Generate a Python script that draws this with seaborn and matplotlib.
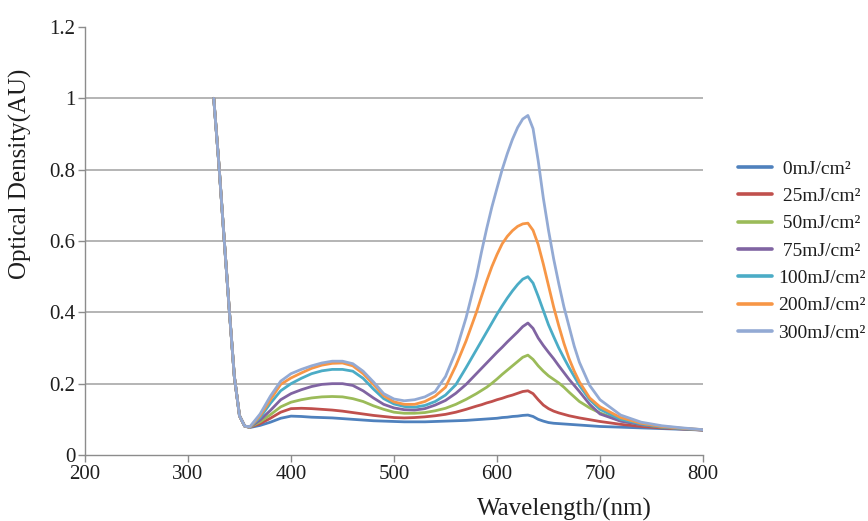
import numpy as np
import pandas as pd
import matplotlib
matplotlib.use("Agg")
import matplotlib.pyplot as plt
from matplotlib.ticker import FuncFormatter
import seaborn as sns

# ---------------- data ----------------
wavelength = [325, 330, 335, 340, 345, 350, 355,
              360, 370, 380, 390, 400, 410, 420, 430, 440, 450, 460, 470, 480, 490,
              500, 510, 520, 530, 540, 550, 560, 570,
              580, 585, 590, 595, 600, 605, 610, 615, 620, 625, 630, 635, 640, 645,
              650, 655, 660, 665, 670, 675, 680,
              690, 700, 720, 740, 760, 780, 800]

uv_edge = [1.0, 0.815, 0.61, 0.41, 0.22, 0.11, 0.081]

od_0 = uv_edge + [
    0.077, 0.083, 0.092, 0.103, 0.109, 0.108, 0.106, 0.105, 0.104, 0.102, 0.100,
    0.098, 0.096, 0.095, 0.094, 0.093, 0.093, 0.093, 0.094, 0.095, 0.096, 0.097,
    0.099, 0.100, 0.101, 0.102, 0.103, 0.105, 0.106, 0.108, 0.109, 0.111, 0.112,
    0.108, 0.100, 0.095, 0.091, 0.089, 0.088, 0.087, 0.086, 0.085, 0.084,
    0.082, 0.080, 0.078, 0.076, 0.074, 0.072, 0.070]
od_25 = uv_edge + [
    0.078, 0.088, 0.103, 0.120, 0.130, 0.131, 0.130, 0.128, 0.126, 0.123, 0.119,
    0.115, 0.111, 0.108, 0.105, 0.104, 0.105, 0.107, 0.110, 0.114, 0.120, 0.128,
    0.137, 0.141, 0.146, 0.150, 0.155, 0.159, 0.164, 0.168, 0.173, 0.178, 0.180,
    0.172, 0.155, 0.140, 0.130, 0.123, 0.118, 0.114, 0.110, 0.107, 0.104,
    0.099, 0.094, 0.086, 0.080, 0.076, 0.073, 0.070]
od_50 = uv_edge + [
    0.078, 0.093, 0.113, 0.135, 0.148, 0.155, 0.160, 0.163, 0.164, 0.163, 0.158,
    0.150, 0.138, 0.128, 0.120, 0.117, 0.117, 0.119, 0.124, 0.131, 0.142, 0.156,
    0.172, 0.181, 0.190, 0.201, 0.213, 0.226, 0.238, 0.250, 0.262, 0.274, 0.280,
    0.268, 0.250, 0.235, 0.222, 0.212, 0.202, 0.190, 0.176, 0.163, 0.150,
    0.132, 0.118, 0.096, 0.085, 0.078, 0.074, 0.070]
od_75 = uv_edge + [
    0.078, 0.098, 0.125, 0.155, 0.172, 0.183, 0.192, 0.198, 0.200, 0.200, 0.195,
    0.180, 0.160, 0.142, 0.132, 0.127, 0.126, 0.130, 0.140, 0.153, 0.173, 0.198,
    0.228, 0.243, 0.258, 0.273, 0.288, 0.302, 0.317, 0.331, 0.345, 0.360, 0.370,
    0.355, 0.328, 0.307, 0.288, 0.270, 0.250, 0.231, 0.212, 0.195, 0.178,
    0.142, 0.115, 0.095, 0.085, 0.079, 0.074, 0.070]
od_100 = uv_edge + [
    0.078, 0.105, 0.145, 0.180, 0.200, 0.215, 0.228, 0.236, 0.240, 0.240, 0.235,
    0.215, 0.185, 0.158, 0.143, 0.136, 0.134, 0.139, 0.150, 0.168, 0.197, 0.245,
    0.295, 0.320, 0.345, 0.370, 0.395, 0.418, 0.440, 0.460, 0.478, 0.493, 0.500,
    0.482, 0.445, 0.405, 0.365, 0.332, 0.300, 0.272, 0.245, 0.220, 0.195,
    0.155, 0.128, 0.100, 0.087, 0.079, 0.074, 0.071]
od_200 = uv_edge + [
    0.078, 0.110, 0.155, 0.198, 0.216, 0.230, 0.243, 0.252, 0.257, 0.258, 0.250,
    0.228, 0.198, 0.166, 0.149, 0.142, 0.142, 0.150, 0.165, 0.190, 0.250, 0.320,
    0.400, 0.445, 0.488, 0.528, 0.562, 0.592, 0.613, 0.629, 0.641, 0.648, 0.650,
    0.630, 0.590, 0.535, 0.475, 0.415, 0.362, 0.313, 0.270, 0.235, 0.205,
    0.160, 0.135, 0.105, 0.089, 0.080, 0.075, 0.071]
od_300 = uv_edge + [
    0.079, 0.115, 0.165, 0.207, 0.228, 0.240, 0.250, 0.258, 0.263, 0.263, 0.256,
    0.235, 0.205, 0.172, 0.157, 0.152, 0.155, 0.163, 0.178, 0.220, 0.290, 0.385,
    0.500, 0.570, 0.635, 0.695, 0.748, 0.800, 0.845, 0.885, 0.918, 0.942, 0.952,
    0.915, 0.825, 0.720, 0.630, 0.550, 0.480, 0.415, 0.360, 0.305, 0.260,
    0.195, 0.155, 0.112, 0.092, 0.082, 0.076, 0.071]

doses = [" 0mJ/cm²", " 25mJ/cm²", " 50mJ/cm²", " 75mJ/cm²",
         "100mJ/cm²", "200mJ/cm²", "300mJ/cm²"]
series = [od_0, od_25, od_50, od_75, od_100, od_200, od_300]
colors = ["#4F81BD", "#C0504D", "#9BBB59", "#8064A2", "#4BACC6", "#F79646", "#93AAD4"]

x_ticks = [200, 300, 400, 500, 600, 700, 800]
y_ticks = [0, 0.2, 0.4, 0.6, 0.8, 1.0, 1.2]

df = pd.DataFrame({
    "Wavelength": np.tile(wavelength, len(series)),
    "OD": np.concatenate(series),
    "Dose": np.repeat(doses, len(wavelength)),
})

# ---------------- style ----------------
sns.set_style("white")
plt.rcParams["font.family"] = ["Liberation Serif", "DejaVu Serif"]

W, H = 868, 521
fig = plt.figure(figsize=(W / 100, H / 100), dpi=100)
ax = fig.add_axes([85 / W, 1 - 455 / H, 618 / W, 428 / H])

sns.lineplot(data=df, x="Wavelength", y="OD", hue="Dose", hue_order=doses,
             palette=colors, linewidth=2.0, errorbar=None, ax=ax)

ax.set_xlim(200, 800)
ax.set_ylim(0, 1.2)
ax.set_xticks(x_ticks)
ax.set_yticks(y_ticks)
ax.yaxis.set_major_formatter(FuncFormatter(lambda v, p: f"{v:g}"))

ax.grid(axis="y", color="#a8a8a8", linewidth=1.2)
ax.grid(axis="x", visible=False)
ax.set_axisbelow(True)
ax.get_ygridlines()[-1].set_visible(False)
ax.get_ygridlines()[0].set_visible(False)

for s in ["top", "right"]:
    ax.spines[s].set_visible(False)
for s in ["left", "bottom"]:
    ax.spines[s].set_color("#8c8c8c")
    ax.spines[s].set_linewidth(1.0)

ax.tick_params(axis="both", direction="out", length=5, width=1, color="#8c8c8c",
               labelsize=15, labelcolor="#1e1e1e", pad=2)
ax.tick_params(axis="x", bottom=True)
ax.tick_params(axis="y", left=True)

ax.set_xlabel("Wavelength/(nm)", fontsize=18, color="#1e1e1e")
ax.xaxis.set_label_coords(0.775, -0.1)
ax.set_ylabel("Optical Density(AU)", fontsize=18, color="#1e1e1e")
ax.yaxis.set_label_coords(-0.085, 0.657)

handles, labels = ax.get_legend_handles_labels()
ax.get_legend().remove()
leg = fig.legend(handles, labels, loc="center left",
                 bbox_to_anchor=(738 / W, 1 - 251 / H), bbox_transform=fig.transFigure,
                 frameon=False, fontsize=14, handlelength=1.75, handletextpad=0.3,
                 labelspacing=0.5, borderpad=0, borderaxespad=0)
for h in leg.legend_handles:
    h.set_linewidth(2.6)
for t in leg.get_texts():
    t.set_color("#1e1e1e")

fig.savefig("out.png", dpi=100)
